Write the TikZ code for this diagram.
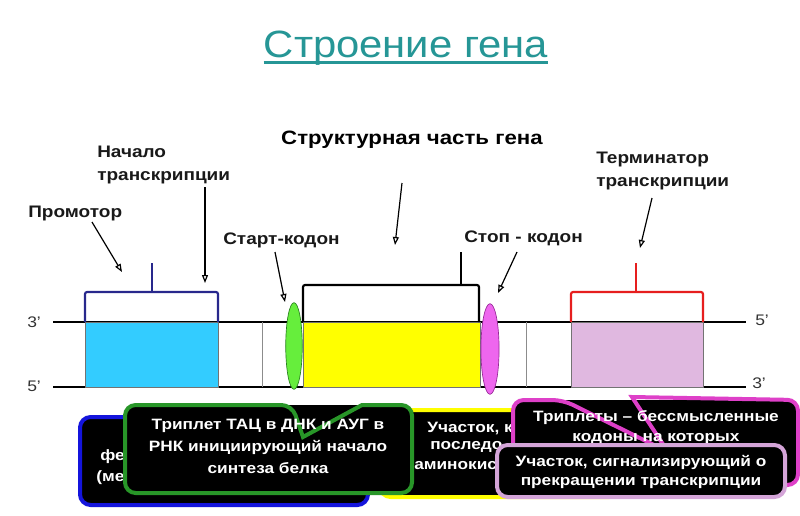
\documentclass[tikz,border=0pt]{standalone}
\usepackage{fontspec}
\setmainfont{Liberation Sans}
\newfontfamily\widef[FakeStretch=1.15]{Liberation Sans}
\newfontfamily\lblf[FakeStretch=1.14]{Liberation Sans}
\newfontfamily\titlef[FakeStretch=1.1]{Liberation Sans}
\usetikzlibrary{arrows.meta}
\definecolor{titlecol}{RGB}{38,150,150}
\definecolor{promcol}{RGB}{51,204,255}
\definecolor{strcol}{RGB}{255,255,0}
\definecolor{termcol}{RGB}{224,184,224}
\definecolor{startcol}{RGB}{102,238,60}
\definecolor{startedge}{RGB}{40,130,30}
\definecolor{stopcol}{RGB}{238,102,238}
\definecolor{stopedge}{RGB}{150,40,150}
\definecolor{navycol}{RGB}{40,40,140}
\definecolor{redcol}{RGB}{230,30,30}
\definecolor{bluebord}{RGB}{20,20,220}
\definecolor{greenbord}{RGB}{40,150,40}
\definecolor{pinkbord}{RGB}{222,64,200}
\definecolor{lavbord}{RGB}{212,164,216}
\tikzset{
  lbl/.style={font=\lblf\bfseries\fontsize{12.5}{17.25}\selectfont, text=black!90, inner sep=0pt, align=left},
  endlbl/.style={font=\lblf\fontsize{11.5}{14}\selectfont, inner sep=0pt, text=black!80},
  dnaline/.style={line width=1.1pt, black},
  segbox/.style={draw=black!55, line width=0.6pt},
  bracketline/.style={line width=1.6pt, rounded corners=1.5pt},
  pointer/.style={line width=0.9pt, -{Triangle[open,length=6pt,width=4.5pt]}},
  callfill/.style={fill=black, rounded corners=8pt},
  callborder/.style={line width=3pt, rounded corners=8pt},
  calltext/.style={font=\widef\bfseries\fontsize{11.25}{16.5}\selectfont, text=white, inner sep=0pt, align=center},
  parttext/.style={font=\widef\bfseries\fontsize{11.25}{14}\selectfont, text=white, inner sep=0pt, anchor=west}
}
\begin{document}
\begin{tikzpicture}[x=0.75pt,y=-0.75pt]
\useasboundingbox (0,0) rectangle (800,515);
\fill[white] (0,0) rectangle (800,515);

% title
\node[font=\titlef\fontsize{28.5}{34}\selectfont, text=titlecol, inner sep=0pt, anchor=base] (title) at (406,57) {Строение гена};
\draw[titlecol, line width=2pt] ([yshift=-4pt]title.base west) -- ([yshift=-4pt]title.base east);

% DNA strands
\coordinate (tl) at (53,322); \coordinate (tr) at (746,322);
\coordinate (bl) at (53,387); \coordinate (br) at (746,387);
\draw[dnaline] (tl) -- (tr);
\draw[dnaline] (bl) -- (br);
\draw[black!45, line width=0.6pt] (262,322) -- (262,387);
\draw[black!45, line width=0.6pt] (526,322) -- (526,387);

% segments
\filldraw[segbox, fill=promcol] (85,322) rectangle (218,387);
\filldraw[segbox, fill=strcol] (303,322) rectangle (480,387);
\filldraw[segbox, fill=termcol] (571,322) rectangle (703,387);

% brackets
\draw[bracketline, navycol] (85,322) -- (85,292) -- (218,292) -- (218,322);
\draw[navycol, line width=1.2pt] (152,292) -- (152,263);
\draw[bracketline, black] (303,322) -- (303,285) -- (479,285) -- (479,322);
\draw[black, line width=1.4pt] (461,285) -- (461,252);
\draw[bracketline, redcol] (571,322) -- (571,292) -- (703,292) -- (703,322);
\draw[redcol, line width=1.2pt] (636,292) -- (636,263);

% codons
\filldraw[fill=startcol, draw=startedge, line width=0.5pt] (294,346) ellipse [x radius=6.2pt, y radius=32.5pt];
\filldraw[fill=stopcol, draw=stopedge, line width=0.5pt] (490,349) ellipse [x radius=6.8pt, y radius=34pt];

% end labels
\node[endlbl, anchor=west] (l3a) at (27,322) {3’};
\node[endlbl, anchor=west] (l5a) at (27,386) {5’};
\node[endlbl, anchor=west] (r5a) at (755,320) {5’};
\node[endlbl, anchor=west] (r3a) at (752,383) {3’};

% labels
\node[lbl, anchor=west] (nach) at (97,165) {Начало\\транскрипции};
\node[lbl, anchor=west] (prom) at (28,213) {Промотор};
\node[lbl, anchor=west] (start) at (223,240) {Старт-кодон};
\node[font=\widef\bfseries\fontsize{14.5}{17}\selectfont, inner sep=0pt] (struct) at (412,140) {Структурная часть гена};
\node[lbl, anchor=west] (stop) at (464,238) {Стоп - кодон};
\node[lbl, anchor=west] (term) at (596,171) {Терминатор\\транскрипции};

% arrows
\coordinate (a1s) at (92,222);  \coordinate (a1e) at (122,272);
\coordinate (a2s) at (205,187); \coordinate (a2e) at (205,283);
\coordinate (a3s) at (275,252); \coordinate (a3e) at (285,302);
\coordinate (a4s) at (402,183); \coordinate (a4e) at (395,245);
\coordinate (a5s) at (517,252); \coordinate (a5e) at (498,293);
\coordinate (a6s) at (652,198); \coordinate (a6e) at (640,248);
\draw[pointer] (a1s) -- (a1e);
\draw[pointer] (a2s) -- (a2e);
\draw[pointer] (a3s) -- (a3e);
\draw[pointer] (a4s) -- (a4e);
\draw[pointer] (a5s) -- (a5e);
\draw[pointer] (a6s) -- (a6e);

% blue callout
\filldraw[callfill, draw=bluebord, line width=3pt] (80,417) rectangle (368,505);
\node[parttext] (bt1) at (100,457) {фе};
\node[parttext] (bt2) at (96,478) {(ме};

% yellow callout
\filldraw[callfill, draw=strcol, line width=3pt] (380,410) rectangle (620,497);
\node[parttext] (yt1) at (427,428) {Участок, к};
\node[parttext] (yt2) at (430,447) {последо};
\node[parttext] (yt3) at (414,466) {аминокис};

% green callout
\fill[callfill] (125,405) rectangle (412,493);
\draw[callborder, greenbord] (125,450) -- (125,405) -- (292,405) [sharp corners] -- (303,437) -- (362,405) [rounded corners=8pt] -- (412,405) -- (412,493) -- (125,493) -- cycle;
\node[calltext] (gt) at (268,446) {Триплет ТАЦ в ДНК и АУГ в\\РНК инициирующий начало\\синтеза белка};

% pink callout
\fill[callfill] (513,400) rectangle (798,485);
\draw[callborder, pinkbord] (513,445) -- (513,400) -- (563,400) [sharp corners] -- (668,452) -- (632,397) [rounded corners=8pt] -- (798,400) -- (798,485) -- (513,485) -- cycle;
\node[calltext, font=\widef\bfseries\fontsize{11.25}{15}\selectfont] (pt) at (656,428) {Триплеты – бессмысленные\\кодоны на которых};

% lavender callout
\filldraw[callfill, draw=lavbord, line width=3pt] (497,445) rectangle (785,497);
\node[calltext, font=\widef\bfseries\fontsize{11.25}{14.25}\selectfont] (lt) at (641,472) {Участок, сигнализирующий о\\прекращении транскрипции};
\end{tikzpicture}
\end{document}
